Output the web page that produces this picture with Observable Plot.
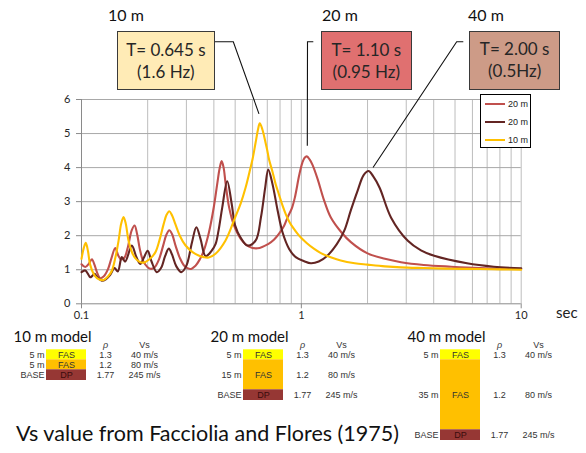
<!DOCTYPE html>
<html><head><meta charset="utf-8">
<script src="https://cdn.jsdelivr.net/npm/d3@7"></script>
<script src="https://cdn.jsdelivr.net/npm/@observablehq/plot@0.6"></script>
<style>
body{margin:0;background:#fff;}
#root{position:relative;width:586px;height:453px;overflow:hidden;font-family:Lato,sans-serif;color:#222;}
.abs{position:absolute;}
.box{position:absolute;box-sizing:border-box;border:1.5px solid #3a3a3a;display:flex;flex-direction:column;justify-content:center;align-items:center;font-size:17px;line-height:22px;color:#262626;}
.title{position:absolute;font-size:16px;color:#111;}
#legend{position:absolute;left:480px;top:94px;width:51px;height:54px;box-sizing:border-box;border:1px solid #000;background:#fff;font-family:"Liberation Sans",Arial,sans-serif;font-size:9px;}
#legend .row{position:absolute;left:4px;height:12px;display:flex;align-items:center;}
#legend .sw{width:20px;height:2px;margin-right:3px;}
</style></head><body><div id="root"></div>
<script>
// ---------- data: transfer function (amplification vs period, s) ----------
const seriesLabels = ["20 m", "20 m", "10 m"];
const seriesColors = ["#C0504D", "#632523", "#FFC000"];

const curve20m = [[0.1,1.16],[0.104,1.08],[0.108,1.18],[0.1115,1.31],[0.1145,1.15],[0.118,0.90],[0.1216,0.75],[0.126,0.80],[0.132,1.02],[0.137,1.35],[0.1424,1.64],[0.147,1.42],[0.1516,1.30],[0.157,1.36],[0.163,1.70],[0.169,2.15],[0.1744,2.30],[0.179,2.05],[0.185,1.55],[0.192,1.22],[0.2056,1.03],[0.215,1.07],[0.225,1.30],[0.235,1.70],[0.243,2.02],[0.2508,2.16],[0.258,2.05],[0.268,1.70],[0.28,1.35],[0.295,1.10],[0.312,1.02],[0.33,1.12],[0.345,1.30],[0.36,1.56],[0.38,2.10],[0.40,2.85],[0.415,3.55],[0.425,3.98],[0.434,4.19],[0.443,4.00],[0.452,3.55],[0.469,2.84],[0.494,2.30],[0.53,1.91],[0.578,1.68],[0.632,1.63],[0.709,1.76],[0.75,1.88],[0.792,2.06],[0.836,2.30],[0.866,2.54],[0.905,2.80],[0.935,3.13],[0.978,3.78],[1.01,4.14],[1.035,4.29],[1.059,4.33],[1.09,4.24],[1.124,4.08],[1.185,3.67],[1.27,3.03],[1.36,2.54],[1.52,2.10],[1.68,1.81],[2.0,1.48],[2.4,1.32],[2.84,1.22],[3.6,1.14],[4.8,1.09],[6.5,1.05],[10,1.02]];

const curve40m = [[0.1,0.93],[0.104,0.98],[0.107,0.88],[0.1095,0.78],[0.112,0.82],[0.1146,0.88],[0.118,0.78],[0.1237,0.68],[0.129,0.72],[0.1351,0.85],[0.1413,1.05],[0.1463,0.95],[0.1526,1.37],[0.158,1.24],[0.1694,1.71],[0.177,1.40],[0.185,1.17],[0.192,1.35],[0.2,1.56],[0.208,1.25],[0.22,0.93],[0.23,1.05],[0.24,1.40],[0.2495,1.62],[0.258,1.45],[0.27,1.10],[0.2845,0.93],[0.30,1.12],[0.318,1.80],[0.333,2.25],[0.348,1.90],[0.367,1.40],[0.39,1.55],[0.407,1.75],[0.42,2.15],[0.437,2.84],[0.46,3.60],[0.482,2.94],[0.50,2.30],[0.53,1.94],[0.569,1.71],[0.62,1.86],[0.655,2.54],[0.685,3.42],[0.707,3.94],[0.739,3.52],[0.78,2.74],[0.821,2.10],[0.88,1.61],[0.943,1.37],[1.03,1.25],[1.105,1.19],[1.2,1.24],[1.313,1.41],[1.45,1.75],[1.566,2.14],[1.68,2.75],[1.8,3.31],[1.92,3.78],[2.02,3.90],[2.12,3.75],[2.27,3.41],[2.56,2.53],[3.05,1.85],[3.5,1.57],[4.02,1.41],[5.67,1.19],[7.5,1.09],[10,1.04]];

const curve10m = [[0.1,1.32],[0.1025,1.65],[0.1046,1.79],[0.107,1.55],[0.1095,1.15],[0.115,0.82],[0.12,0.72],[0.126,0.70],[0.132,0.80],[0.1374,0.97],[0.1425,1.35],[0.1474,1.85],[0.1515,2.35],[0.1553,2.55],[0.159,2.35],[0.1637,1.85],[0.170,1.50],[0.1756,1.34],[0.183,1.24],[0.1917,1.21],[0.203,1.30],[0.2167,1.51],[0.227,1.90],[0.2364,2.34],[0.244,2.62],[0.2508,2.72],[0.258,2.60],[0.2673,2.34],[0.28,2.00],[0.2969,1.72],[0.32,1.52],[0.341,1.42],[0.36,1.37],[0.379,1.36],[0.407,1.47],[0.452,1.86],[0.50,2.54],[0.53,2.95],[0.557,3.40],[0.58,3.85],[0.60,4.25],[0.62,4.75],[0.635,5.12],[0.647,5.30],[0.665,5.12],[0.689,4.70],[0.70,4.50],[0.714,4.22],[0.739,3.88],[0.765,3.50],[0.792,3.20],[0.82,2.90],[0.851,2.62],[0.88,2.42],[0.92,2.22],[0.96,2.06],[1.0,1.93],[1.06,1.78],[1.14,1.62],[1.227,1.49],[1.37,1.36],[1.51,1.27],[1.75,1.19],[2.0,1.15],[2.4,1.10],[2.84,1.07],[3.6,1.05],[4.8,1.03],[6.5,1.02],[8,1.01],[10,1.0]];

const xTicks = [0.1, 1, 10];
const xTickLabels = ["0.1", "1", "10"];
const yTicks = [0, 1, 2, 3, 4, 5, 6];
const xAxisUnit = "sec";

// ---------- data: peak annotations ----------
const annTitles = ["10 m", "20 m", "40 m"];
const annLine1 = ["T= 0.645 s", "T= 1.10 s", "T= 2.00 s"];
const annLine2 = ["(1.6 Hz)", "(0.95 Hz)", "(0.5Hz)"];
const annPeakPeriod = [0.645, 1.07, 2.0];
const annPeakAmp = [5.3, 4.33, 3.9];

// ---------- data: soil models ----------
const modelNames = ["10 m model", "20 m model", "40 m model"];
const modelThickness = [[5, 5], [5, 15], [5, 35]];
const layerMaterial = ["FAS", "FAS", "DP"];
const layerDensity = ["1.3", "1.2", "1.77"];
const layerVs = ["40 m/s", "80 m/s", "245 m/s"];
const caption = "Vs value from Facciolia and Flores (1975)";

// ---------- styles / layout ----------
const annFill = ["#FFEBB6", "#E07070", "#CD9B87"];
const annBox = [[116.7, 31, 98.3, 59], [321, 31, 90.7, 59], [469.3, 30.7, 90.7, 59]];
const annTitlePos = [[108, 5], [322, 5], [468, 5]];
const annLeaderStart = [[215, 41.7, 233.3, 41.7], [313.3, 41.7, 307.5, 41.7], [463.3, 41.7, 456.7, 41.7]];
const annEndOffset = [[0, -9], [0, -10], [6, -3]];
const layerFill = ["#FFFF00", "#FFC000", "#963734"];
const baseVisualThickness = 5.35;

const root = document.getElementById("root");

// ---------- main chart ----------
const gridX = [];
for (const dec of [0.1, 1]) for (let k = 1; k <= 9; k++) gridX.push(+(k * dec).toFixed(2));
gridX.push(10);

const rows = [];
[curve20m, curve40m, curve10m].forEach((c, i) => c.forEach(([p, a]) => rows.push({s: i, p, a})));

const chart = Plot.plot({
  width: 586, height: 325,
  marginLeft: 81, marginRight: 65.3, marginTop: 99, marginBottom: 21.7,
  style: {fontFamily: "Lato, sans-serif", fontSize: "11px", background: "transparent", color: "#262626"},
  x: {type: "log", domain: [0.1, 10], label: null},
  y: {domain: [0, 6], label: null},
  marks: [
    Plot.ruleX(gridX, {stroke: "#bdbdbd", strokeWidth: 1}),
    Plot.ruleY(yTicks.slice(1), {stroke: "#a8a8a8", strokeWidth: 1}),
    Plot.axisY(yTicks, {tickSize: 5, tickPadding: 6, stroke: "#8a8a8a", fill: "#262626", fontSize: 11, label: null}),
    Plot.axisX(xTicks, {tickSize: 5, tickPadding: 2, stroke: "#8a8a8a", fill: "#262626", fontSize: 11, label: null, tickFormat: d => xTickLabels[xTicks.indexOf(d)]}),
    Plot.ruleX([0.1], {stroke: "#8a8a8a"}),
    Plot.ruleY([0], {stroke: "#8a8a8a"}),
    ...[0, 1, 2].map(i => Plot.line(rows.filter(r => r.s === i), {x: "p", y: "a", stroke: seriesColors[i], strokeWidth: 2.1, curve: "catmull-rom"}))
  ]
});
chart.style.position = "absolute"; chart.style.left = "0px"; chart.style.top = "0px";
root.appendChild(chart);

// unit label
const unit = document.createElement("div");
unit.className = "abs"; unit.textContent = xAxisUnit;
Object.assign(unit.style, {left: "556px", top: "303px", fontSize: "15px", color: "#222"});
root.appendChild(unit);

// legend
const legend = document.createElement("div");
legend.id = "legend";
seriesLabels.forEach((lab, i) => {
  const r = document.createElement("div");
  r.className = "row"; r.style.top = (3 + i * 17.8) + "px";
  r.innerHTML = `<div class="sw" style="background:${seriesColors[i]}"></div><span>${lab}</span>`;
  legend.appendChild(r);
});
root.appendChild(legend);

// annotation boxes and titles
annTitles.forEach((t, i) => {
  const tt = document.createElement("div");
  tt.className = "title"; tt.textContent = t;
  tt.style.left = annTitlePos[i][0] + "px"; tt.style.top = annTitlePos[i][1] + "px";
  root.appendChild(tt);
  const b = document.createElement("div");
  b.className = "box";
  const [l, tp, w, h] = annBox[i];
  Object.assign(b.style, {left: l + "px", top: tp + "px", width: w + "px", height: h + "px", background: annFill[i]});
  b.innerHTML = `<div>${annLine1[i]}</div><div>${annLine2[i]}</div>`;
  root.appendChild(b);
});

// leader lines via the chart's scales
const sx = chart.scale("x"), sy = chart.scale("y");
const ov = d3.select(root).append("svg").attr("width", 586).attr("height", 453)
  .style("position", "absolute").style("left", 0).style("top", 0).style("pointer-events", "none");
annTitles.forEach((t, i) => {
  const [x0, y0, x1, y1] = annLeaderStart[i];
  const ex = sx.apply(annPeakPeriod[i]) + annEndOffset[i][0];
  const ey = sy.apply(annPeakAmp[i]) + annEndOffset[i][1];
  ov.append("polyline").attr("points", `${x0},${y0} ${x1},${y1} ${ex},${ey}`)
    .attr("fill", "none").attr("stroke", "#111").attr("stroke-width", 1.1);
});

// ---------- soil model columns ----------
const layers = [];
modelNames.forEach((m, mi) => {
  let top = 0;
  const th = modelThickness[mi];
  for (let li = 0; li < 3; li++) {
    const t = li < 2 ? th[li] : baseVisualThickness;
    layers.push({
      model: m, top, bottom: top + t, mid: top + t / 2,
      fill: layerFill[li], material: layerMaterial[li],
      depth: li < 2 ? th[li] + " m" : "BASE",
      rho: layerDensity[li], vs: layerVs[li], base: li === 2
    });
    top += t;
  }
});

const tableFont = "'Liberation Sans', Arial, sans-serif";
const bottom = Plot.plot({
  width: 586, height: 128,
  margin: 0,
  style: {background: "transparent", fontFamily: tableFont, fontSize: "9px"},
  x: {type: "band", domain: modelNames, range: [46, 481], paddingInner: 0.7975, paddingOuter: 0, align: 0, axis: null},
  y: {domain: [0, 50], range: [24.3, 124.3], axis: null},
  color: {type: "identity"},
  marks: [
    Plot.barY(layers, {x: "model", y1: "top", y2: "bottom", fill: "fill"}),
    Plot.text(layers, {x: "model", y: "mid", text: "material", fill: d => d.base ? "#3a0c0c" : "#333", fontSize: 9}),
    Plot.text(layers, {x: "model", y: "mid", text: "depth", dx: -22, textAnchor: "end", fill: "#333", fontSize: 9}),
    Plot.text(layers, {x: "model", y: "mid", text: "rho", dx: 39, fill: "#333", fontSize: 9}),
    Plot.text(layers, {x: "model", y: "mid", text: "vs", dx: 78, fill: "#333", fontSize: 9}),
    Plot.text(modelNames, {x: d => d, y: -2.3, text: () => "ρ", dx: 39, fill: "#333", fontSize: 9, fontStyle: "italic"}),
    Plot.text(modelNames, {x: d => d, y: -2.3, text: () => "Vs", dx: 78, fill: "#333", fontSize: 9}),
    Plot.text(modelNames, {x: d => d, y: -6.4, text: d => d, dx: -14, fill: "#111", fontSize: 15, fontFamily: "Lato, sans-serif"})
  ]
});
bottom.style.position = "absolute"; bottom.style.left = "0px"; bottom.style.top = "325px";
root.appendChild(bottom);

const cap = document.createElement("div");
cap.className = "abs"; cap.textContent = caption;
Object.assign(cap.style, {left: "16px", top: "420px", fontSize: "21.5px", color: "#111"});
root.appendChild(cap);
</script></body></html>
